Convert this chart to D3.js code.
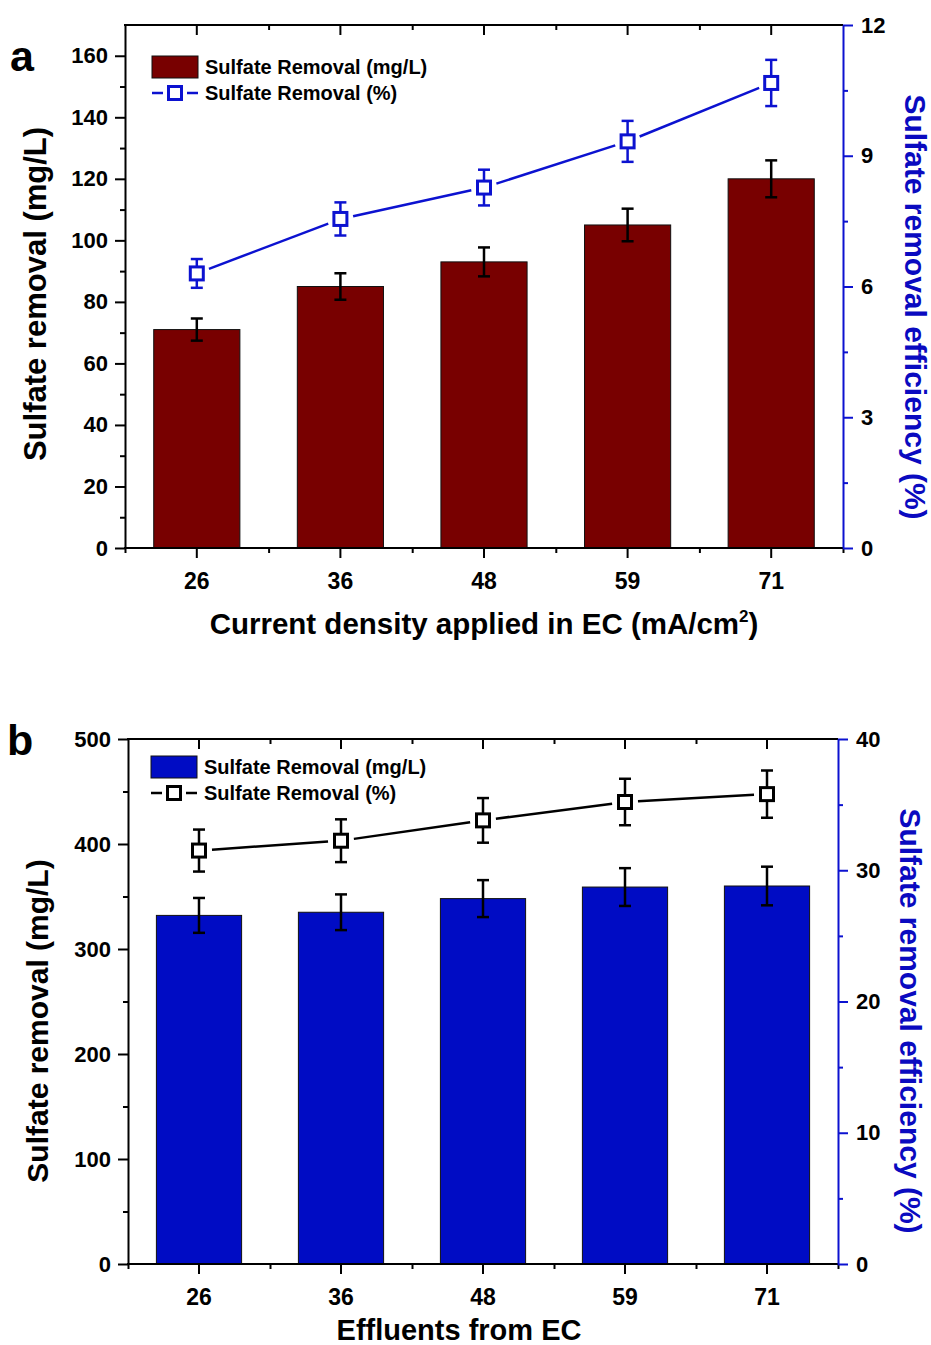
<!DOCTYPE html>
<html>
<head>
<meta charset="utf-8">
<script src="https://cdn.jsdelivr.net/npm/d3@7"></script>
<style>
    body { margin: 0; background: #fff; }
    svg text { font-family: "Liberation Sans", Arial, sans-serif; font-weight: bold; }
</style>
</head>
<body>
<svg id="chart" width="931" height="1345"></svg>
<script>

// categories (current density, mA/cm2)
const categories = ["26", "36", "48", "59", "71"];

// panel a
const aRemovalMg = [71, 85, 93, 105, 120];
const aRemovalMgErr = [3.6, 4.3, 4.7, 5.3, 6.0];
const aRemovalPct = [6.30, 7.55, 8.27, 9.33, 10.67];
const aRemovalPctErr = [0.33, 0.38, 0.41, 0.47, 0.53];
const aLeftTicks = [0, 20, 40, 60, 80, 100, 120, 140, 160];
const aLeftMinor = [10, 30, 50, 70, 90, 110, 130, 150];
const aRightTicks = [0, 3, 6, 9, 12];
const aRightMinor = [1.5, 4.5, 7.5, 10.5];

// panel b
const bRemovalMg = [332, 335, 348, 359, 360];
const bRemovalMgErr = [16.6, 17.0, 17.6, 18.0, 18.4];
const bRemovalPct = [31.5, 32.25, 33.8, 35.2, 35.8];
const bRemovalPctErr = [1.6, 1.63, 1.7, 1.77, 1.8];
const bLeftTicks = [0, 100, 200, 300, 400, 500];
const bLeftMinor = [50, 150, 250, 350, 450];
const bRightTicks = [0, 10, 20, 30, 40];
const bRightMinor = [5, 15, 25, 35];

const svg = d3.select("#chart");

function drawPanel(cfg) {
    const g = svg.append("g");
    const left = cfg.left, right = cfg.right, top = cfg.top, bottom = cfg.bottom;

    // scales
    const x = d3.scaleBand()
        .domain(categories)
        .range([left, right])
        .paddingInner(0.4)
        .paddingOuter(0.2);
    const xi = d3.scaleLinear().domain([0, categories.length]).range([left, right]);
    const yL = d3.scaleLinear().domain([0, cfg.leftMax]).range([bottom, top]);
    const yR = d3.scaleLinear().domain([0, cfg.rightMax]).range([bottom, top]);
    const bw = x.bandwidth();
    const cx = d => x(d) + bw / 2;

    // bars
    g.selectAll(".bar")
        .data(categories).enter()
        .append("rect")
        .attr("x", d => x(d))
        .attr("width", bw)
        .attr("y", (d, i) => yL(cfg.bars[i]))
        .attr("height", (d, i) => bottom - yL(cfg.bars[i]))
        .attr("fill", cfg.barColor)
        .attr("stroke", "#111")
        .attr("stroke-width", 1);

    // bar error bars
    categories.forEach(function(c, i) {
        const v = cfg.bars[i], e = cfg.barErr[i];
        drawErr(g, cx(c), yL(v + e), yL(v - e), "#000");
    });

    // line series with gaps near the markers
    const pts = categories.map((c, i) => [cx(c), yR(cfg.pct[i])]);
    const gap = 13;
    for (let i = 0; i < pts.length - 1; i++) {
        const p0 = pts[i], p1 = pts[i + 1];
        const dx = p1[0] - p0[0], dy = p1[1] - p0[1];
        const len = Math.sqrt(dx * dx + dy * dy);
        g.append("line")
            .attr("x1", p0[0] + dx / len * gap)
            .attr("y1", p0[1] + dy / len * gap)
            .attr("x2", p1[0] - dx / len * gap)
            .attr("y2", p1[1] - dy / len * gap)
            .attr("stroke", cfg.lineColor)
            .attr("stroke-width", 2.5);
    }
    categories.forEach(function(c, i) {
        const v = cfg.pct[i], e = cfg.pctErr[i];
        drawErr(g, cx(c), yR(v + e), yR(v - e), cfg.lineColor);
    });
    pts.forEach(function(p) {
        drawMarker(g, p[0], p[1], cfg.lineColor);
    });

    // axes
    const axisStyle = sel => {
        sel.selectAll("path, line").attr("stroke-width", 2);
        sel.selectAll("text").attr("font-size", "22px").attr("fill", "#000");
    };

    // left
    g.append("g")
        .attr("transform", "translate(" + left + ",0)")
        .call(d3.axisLeft(yL).tickValues(cfg.leftTicks).tickSize(10).tickPadding(7).tickSizeOuter(0))
        .call(axisStyle);
    g.append("g")
        .attr("transform", "translate(" + left + ",0)")
        .call(d3.axisLeft(yL).tickValues(cfg.leftMinor).tickSize(5).tickFormat("").tickSizeOuter(0))
        .call(sel => sel.select(".domain").remove())
        .call(axisStyle);

    // bottom
    g.append("g")
        .attr("transform", "translate(0," + bottom + ")")
        .call(d3.axisBottom(x).tickSize(10).tickPadding(15).tickSizeOuter(0))
        .call(axisStyle)
        .call(sel => sel.selectAll("text").attr("font-size", "23px"))
        .call(sel => sel.select(".domain").attr("d", "M" + (left - 1) + ",0H" + right));
    g.append("g")
        .attr("transform", "translate(0," + bottom + ")")
        .call(d3.axisBottom(xi).tickValues(d3.range(categories.length + 1)).tickSize(5).tickFormat(""))
        .call(sel => sel.select(".domain").remove())
        .call(axisStyle);

    // top (ticks inward)
    g.append("g")
        .attr("transform", "translate(0," + top + ")")
        .call(d3.axisTop(x).tickSize(-10).tickFormat("").tickSizeOuter(0))
        .call(axisStyle)
        .call(sel => sel.select(".domain").attr("d", "M" + (left - 1) + ",0H" + right));
    g.append("g")
        .attr("transform", "translate(0," + top + ")")
        .call(d3.axisTop(xi).tickValues(d3.range(1, categories.length)).tickSize(-5).tickFormat(""))
        .call(sel => sel.select(".domain").remove())
        .call(axisStyle);

    // right (blue)
    g.append("g")
        .attr("transform", "translate(" + right + ",0)")
        .call(d3.axisRight(yR).tickValues(cfg.rightTicks).tickSize(10).tickPadding(8).tickSizeOuter(0))
        .call(axisStyle)
        .call(sel => sel.selectAll("path, line").attr("stroke", cfg.axisBlue));
    g.append("g")
        .attr("transform", "translate(" + right + ",0)")
        .call(d3.axisRight(yR).tickValues(cfg.rightMinor).tickSize(5).tickFormat(""))
        .call(sel => sel.select(".domain").remove())
        .call(axisStyle)
        .call(sel => sel.selectAll("line").attr("stroke", cfg.axisBlue));

    // axis titles
    g.append("text")
        .attr("transform", "translate(" + cfg.leftTitleX + "," + cfg.leftTitleY + ") rotate(-90)")
        .attr("text-anchor", "middle")
        .attr("font-size", cfg.leftTitleSize)
        .text("Sulfate removal (mg/L)");

    g.append("text")
        .attr("transform", "translate(" + cfg.rightTitleX + "," + cfg.rightTitleY + ") rotate(90)")
        .attr("text-anchor", "middle")
        .attr("font-size", "30px")
        .attr("fill", cfg.titleBlue)
        .text("Sulfate removal efficiency (%)");

    const xt = g.append("text")
        .attr("x", cfg.xTitleX)
        .attr("y", cfg.xTitleY)
        .attr("text-anchor", "middle")
        .attr("font-size", cfg.xTitleSize);
    xt.append("tspan").text(cfg.xTitle);
    if (cfg.xTitleSup) {
        xt.append("tspan").attr("font-size", "17px").attr("dy", "-12").text("2");
        xt.append("tspan").attr("dy", "12").text(")");
    }

    // panel letter
    g.append("text")
        .attr("x", cfg.letterX)
        .attr("y", cfg.letterY)
        .attr("font-size", "43px")
        .text(cfg.letter);

    // legend
    const lx = cfg.legendX, ly = cfg.legendY;
    g.append("rect")
        .attr("x", lx).attr("y", ly)
        .attr("width", 46).attr("height", 22)
        .attr("fill", cfg.barColor)
        .attr("stroke", "#111").attr("stroke-width", 1);
    g.append("text")
        .attr("x", lx + 53).attr("y", ly + 18)
        .attr("font-size", "20px")
        .text("Sulfate Removal (mg/L)");
    const my = ly + 37;
    g.append("line")
        .attr("x1", lx).attr("x2", lx + 11).attr("y1", my).attr("y2", my)
        .attr("stroke", cfg.lineColor).attr("stroke-width", 2.5);
    g.append("line")
        .attr("x1", lx + 35).attr("x2", lx + 46).attr("y1", my).attr("y2", my)
        .attr("stroke", cfg.lineColor).attr("stroke-width", 2.5);
    drawMarker(g, lx + 23, my, cfg.lineColor);
    g.append("text")
        .attr("x", lx + 53).attr("y", my + 7)
        .attr("font-size", "20px")
        .text("Sulfate Removal (%)");
}

function drawErr(g, x, y1, y2, color) {
    const cap = 6;
    g.append("line")
        .attr("x1", x).attr("x2", x).attr("y1", y1).attr("y2", y2)
        .attr("stroke", color).attr("stroke-width", 2.5);
    [y1, y2].forEach(function(y) {
        g.append("line")
            .attr("x1", x - cap).attr("x2", x + cap).attr("y1", y).attr("y2", y)
            .attr("stroke", color).attr("stroke-width", 2.5);
    });
}

function drawMarker(g, x, y, color) {
    const s = 13;
    g.append("rect")
        .attr("x", x - s / 2).attr("y", y - s / 2)
        .attr("width", s).attr("height", s)
        .attr("fill", "#fff")
        .attr("stroke", color)
        .attr("stroke-width", 3);
}

drawPanel({
    left: 125, right: 843, top: 25, bottom: 548,
    leftMax: 170, rightMax: 12,
    bars: aRemovalMg, barErr: aRemovalMgErr,
    pct: aRemovalPct, pctErr: aRemovalPctErr,
    leftTicks: aLeftTicks, leftMinor: aLeftMinor,
    rightTicks: aRightTicks, rightMinor: aRightMinor,
    barColor: "#780000", lineColor: "#0c12d0",
    axisBlue: "#0c12d0", titleBlue: "#0a0ac0",
    leftTitleX: 46, leftTitleY: 294, leftTitleSize: "31px",
    rightTitleX: 905, rightTitleY: 307,
    xTitle: "Current density applied in EC (mA/cm", xTitleSup: true,
    xTitleX: 484, xTitleY: 634, xTitleSize: "29.5px",
    letter: "a", letterX: 10, letterY: 71,
    legendX: 152, legendY: 56
});

drawPanel({
    left: 128, right: 838, top: 739, bottom: 1264,
    leftMax: 500, rightMax: 40,
    bars: bRemovalMg, barErr: bRemovalMgErr,
    pct: bRemovalPct, pctErr: bRemovalPctErr,
    leftTicks: bLeftTicks, leftMinor: bLeftMinor,
    rightTicks: bRightTicks, rightMinor: bRightMinor,
    barColor: "#000cc4", lineColor: "#000",
    axisBlue: "#0c12d0", titleBlue: "#0a0ac0",
    leftTitleX: 48, leftTitleY: 1021, leftTitleSize: "30px",
    rightTitleX: 900, rightTitleY: 1021,
    xTitle: "Effluents from EC", xTitleSup: false,
    xTitleX: 459, xTitleY: 1340, xTitleSize: "29px",
    letter: "b", letterX: 7, letterY: 755,
    legendX: 151, legendY: 756
});

</script>
</body>
</html>
